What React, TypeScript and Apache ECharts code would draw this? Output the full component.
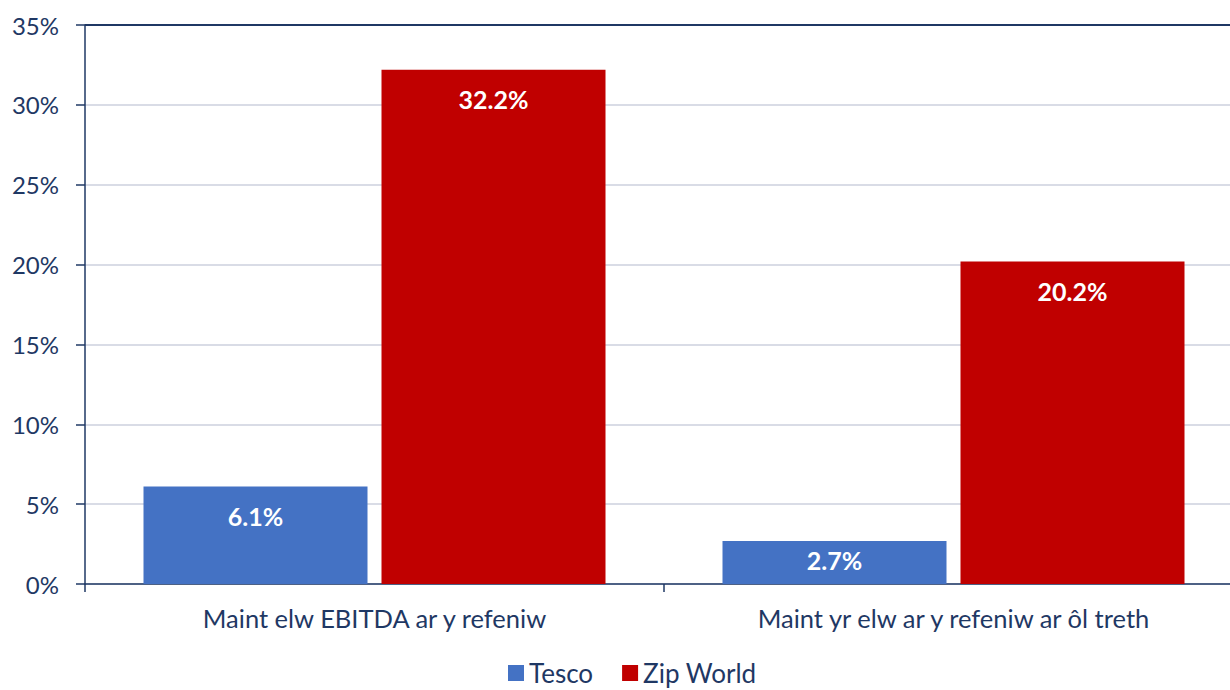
import React, { useEffect, useRef } from "react";
import * as echarts from "echarts";

const categories = ["Maint elw EBITDA ar y refeniw", "Maint yr elw ar y refeniw ar ôl treth"];
const seriesNames = ["Tesco", "Zip World"];
const tescoValues = [6.1, 2.7];
const zipWorldValues = [32.2, 20.2];
const yTicks = { min: 0, max: 35, interval: 5 };

const TEXT = "#1f3864";
const FONT = "Lato, 'Open Sans', sans-serif";

export default function App() {
  const ref = useRef<HTMLDivElement>(null);
  useEffect(() => {
    if (!ref.current) return;
    const chart = echarts.init(ref.current, null, { renderer: "svg" });
    const label = {
      show: true,
      position: "insideTop",
      distance: 17,
      color: "#ffffff",
      fontWeight: "bold",
      fontSize: 25,
      fontFamily: FONT,
      formatter: (p: any) => p.value.toFixed(1) + "%",
    };
    // short bars: label sits closer to the bar top, as in the reference
    const toData = (vals: number[]) =>
      vals.map((v) => (v < 4 ? { value: v, label: { distance: 7 } } : v));
    chart.setOption({
      animation: false,
      textStyle: { fontFamily: FONT },
      grid: { left: 85, top: 25, height: 559, width: 1158, containLabel: false },
      legend: {
        data: seriesNames,
        top: 655,
        left: 503,
        icon: "rect",
        itemWidth: 16,
        itemHeight: 16,
        itemGap: 29,
        textStyle: { color: TEXT, fontSize: 26, fontFamily: FONT },
      },
      xAxis: {
        type: "category",
        data: categories,
        axisLine: { lineStyle: { color: TEXT, width: 1.5 } },
        axisTick: { show: true, length: 8, lineStyle: { color: TEXT, width: 1.5 } },
        axisLabel: { color: TEXT, fontSize: 25.5, margin: 21, fontFamily: FONT },
      },
      yAxis: {
        type: "value",
        min: yTicks.min,
        max: yTicks.max,
        interval: yTicks.interval,
        axisLine: { show: true, lineStyle: { color: TEXT, width: 1.5 } },
        axisTick: { show: true, length: 9, lineStyle: { color: TEXT, width: 1.5 } },
        axisLabel: {
          color: TEXT,
          fontSize: 24,
          margin: 26,
          fontFamily: FONT,
          formatter: (v: number) => v + "%",
        },
        splitLine: {
          lineStyle: {
            color: ["#d9dce6", "#d9dce6", "#d9dce6", "#d9dce6", "#d9dce6", "#d9dce6", "#d9dce6", TEXT],
            width: 2,
          },
        },
      },
      series: [
        {
          name: seriesNames[0],
          type: "bar",
          data: toData(tescoValues),
          barWidth: 224,
          barGap: "6.25%",
          itemStyle: { color: "#4472c4" },
          label,
        },
        {
          name: seriesNames[1],
          type: "bar",
          data: toData(zipWorldValues),
          barWidth: 224,
          itemStyle: { color: "#c00000" },
          label,
        },
      ],
    });
    return () => chart.dispose();
  }, []);
  return (
    <div style={{ position: "absolute", left: 0, top: 0, width: 1230, height: 690, overflow: "hidden" }}>
      <div ref={ref} style={{ width: 1250, height: 690 }} />
    </div>
  );
}
